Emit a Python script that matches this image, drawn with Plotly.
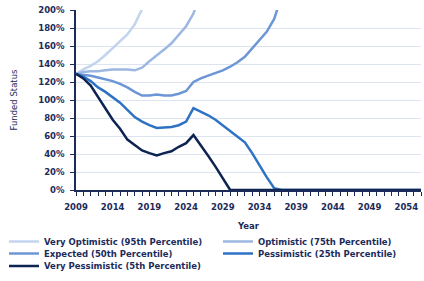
import plotly.graph_objects as go

years = list(range(2009, 2057))

very_optimistic = [129, 134, 138, 143, 150, 158, 165, 173, 184, 201, 225]
optimistic = [129, 131, 132, 132, 133, 134, 134, 134, 133, 136, 143, 149, 156, 163,
              173, 182, 196, 220, 245]
expected = [129, 128, 127, 125, 123, 121, 118, 114, 109, 105, 105, 106, 105, 105,
            107, 110, 120, 124, 127, 130, 133, 137, 142, 148, 157, 167, 176, 190,
            215, 240]
pessimistic = [129, 126, 121, 114, 109, 103, 97, 89, 81, 76, 72, 69, 69.5, 70,
               72, 76, 91, 87, 83, 78, 72, 66, 60, 53, 41, 27, 14, 2, 0] + [0] * 19
very_pessimistic = [129, 124, 116, 103, 90, 78, 68, 56, 50, 44, 41, 38.5, 41, 43,
                    48, 52, 61, 50, 38, 26, 13, 0] + [0] * 26

series = [
    ("Very Optimistic (95th Percentile)", very_optimistic, "#c3d4ee"),
    ("Optimistic (75th Percentile)", optimistic, "#9cb8e2"),
    ("Expected (50th Percentile)", expected, "#6c96d6"),
    ("Pessimistic (25th Percentile)", pessimistic, "#2e72c4"),
    ("Very Pessimistic (5th Percentile)", very_pessimistic, "#0d2452"),
]
# legend slot (column, row) for each series
legend_slots = [(0, 0), (1, 0), (0, 1), (1, 1), (0, 2)]

y_ticks = list(range(0, 201, 20))
x_ticks = list(range(2009, 2057, 5))

NAVY = "#1c2b5a"
FONT = "DejaVu Sans"

W, H = 424, 281
L, R, T, B = 76, 3, 10, 91
pw = W - L - R
ph = H - T - B


def px_x(x):
    return (x - L) / pw


def px_y(y):
    return (H - B - y) / ph


fig = go.Figure()
layout_legends = {}
col_x = [4, 218]
row_y = [241.5, 253.5, 266]
for i, ((name, vals, color), (c, r)) in enumerate(zip(series, legend_slots)):
    key = "legend" if i == 0 else f"legend{i + 1}"
    fig.add_trace(go.Scatter(
        x=years[:len(vals)], y=vals, mode="lines", name=name,
        line=dict(color=color, width=2.5), legend=key,
    ))
    layout_legends[key] = dict(
        x=px_x(col_x[c]), y=px_y(row_y[r]), xanchor="left", yanchor="middle",
        orientation="h", itemwidth=30,
        font=dict(family=FONT, size=8.5, color=NAVY, weight="bold"),
        bgcolor="rgba(0,0,0,0)", borderwidth=0,
    )

fig.update_layout(
    width=W, height=H,
    margin=dict(l=L, r=R, t=T, b=B, autoexpand=False),
    paper_bgcolor="white", plot_bgcolor="white",
    font=dict(family=FONT, color=NAVY),
    showlegend=True,
    xaxis=dict(
        range=[2009, 2056], tickvals=x_ticks, ticktext=[str(v) for v in x_ticks],
        ticks="outside", ticklen=4, tickcolor=NAVY, tickwidth=1,
        minor=dict(dtick=1, tick0=2009, ticks="outside", ticklen=4, tickcolor=NAVY, tickwidth=1),
        showline=True, linecolor=NAVY, linewidth=2,
        showgrid=False, zeroline=False,
        tickfont=dict(family=FONT, size=8.5, color=NAVY, weight="bold"),
        ticklabelstandoff=4,
        title=dict(text="Year", font=dict(family=FONT, size=8.5, color=NAVY, weight="bold"), standoff=12),
        automargin=False,
    ),
    yaxis=dict(
        range=[0, 200], tickvals=y_ticks, ticktext=[f"{v}%" for v in y_ticks],
        ticks="outside", ticklen=4, tickcolor=NAVY, tickwidth=1,
        showline=True, linecolor=NAVY, linewidth=1.5,
        showgrid=True, gridcolor="#dde4f0", gridwidth=1, zeroline=False,
        tickfont=dict(family=FONT, size=8.5, color=NAVY, weight="bold"),
        ticklabelstandoff=4,
        title=dict(text="Funded Status", font=dict(family=FONT, size=8.5, color=NAVY), standoff=19),
        automargin=False,
    ),
    **layout_legends,
)

fig.write_html("out.html", config={"displayModeBar": False},
               post_script="document.body.style.margin='0';")
